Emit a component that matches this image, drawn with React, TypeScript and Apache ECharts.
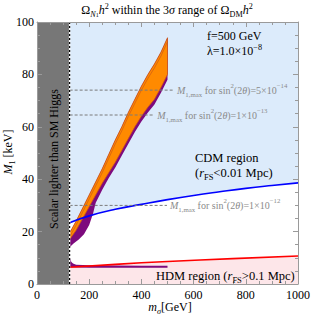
import React, { useEffect, useRef } from 'react';
import * as echarts from 'echarts';

// ---- data ----
const cdmM = [125, 200, 300, 400, 500, 600, 700, 800, 900, 1000];
const cdmY = [23.4, 26, 28.5, 30.4, 32.2, 33.8, 35.2, 36.5, 37.6, 38.6];
const hdmM = [125, 300, 500, 750, 1000];
const hdmY = [6.4, 7.5, 8.6, 9.7, 10.7];
const bandM = [125, 150, 175, 200, 225, 250, 275, 300, 325, 350, 375, 400, 425, 450, 475, 500];
const bandUpper = [19.5, 24, 29, 34, 39, 44, 49.5, 55, 60, 65.5, 70.5, 75.5, 80, 84, 88.5, 94];
const bandLower = [17, 20.5, 25, 29.5, 34, 38.5, 42.5, 46.5, 51, 55.5, 60, 64, 67.5, 70.5, 75, 80];
const purpleM = [125, 140, 160, 180, 200, 215, 225, 250, 275, 300, 325, 350, 375, 400, 425, 450, 475, 500];
const purpleLower = [14, 15.5, 17, 19, 22.5, 27, 31, 36, 40.5, 44.5, 49, 53.5, 58, 62, 65.5, 68.5, 73, 78];
const branchM = [125, 128, 132, 138, 150, 200, 300, 400, 500];
const branchTop = [10.5, 9.3, 8.4, 7.8, 7.3, 7.2, 7.1, 7.0, 7.0];
const branchBottom = [6.8, 6.6, 6.5, 6.4, 6.3, 6.2, 6.2, 6.2, 6.2];
const higgsMass = 125;
const mixY = [74, 64.5, 30];
const mixEnd = [525, 449, 498];
const mixCoef = ['5', '1', '1'];
const mixExp = ['−14', '−13', '−12'];

const SERIF = '"Liberation Serif", "DejaVu Serif", serif';

const pairs = (xs: number[], ys: number[]) => xs.map((x, i) => [x, ys[i]]);

function polySeries(pts: number[][], fill: string, z: number, stroke?: string, lw = 0) {
  return {
    type: 'custom',
    coordinateSystem: 'cartesian2d',
    xAxisIndex: 0,
    yAxisIndex: 0,
    silent: true,
    z,
    data: [[0, 0]],
    renderItem: (_p: any, api: any) => ({
      type: 'polygon',
      shape: { points: pts.map((p) => api.coord(p)) },
      style: { fill, stroke: stroke || 'none', lineWidth: lw },
    }),
  };
}

function lineSeries(data: number[][], color: string, width: number, z: number, extra: any = {}) {
  return {
    type: 'line',
    data,
    symbol: 'none',
    showSymbol: false,
    silent: true,
    z,
    lineStyle: { color, width },
    ...extra,
  };
}

const richBase = (size: number, color: string) => ({
  r: { fontSize: size, fontFamily: SERIF, color, lineHeight: 16, verticalAlign: 'middle' },
  i: { fontSize: size, fontFamily: SERIF, color, fontStyle: 'italic', lineHeight: 16, verticalAlign: 'middle' },
  sup: { fontSize: size * 0.68, fontFamily: SERIF, color, lineHeight: 8, verticalAlign: 'top' },
  sub: { fontSize: size * 0.68, fontFamily: SERIF, color, lineHeight: 6, verticalAlign: 'bottom' },
  subi: { fontSize: size * 0.68, fontFamily: SERIF, color, fontStyle: 'italic', lineHeight: 6, verticalAlign: 'bottom' },
  subsub: { fontSize: size * 0.5, fontFamily: SERIF, color, lineHeight: 3, verticalAlign: 'bottom' },
});

export default function App() {
  const ref = useRef<HTMLDivElement>(null);
  useEffect(() => {
    if (!ref.current) return;
    const chart = echarts.init(ref.current, undefined, { renderer: 'svg' });

    const upperPts = pairs(bandM, bandUpper);
    const lowerPts = pairs(bandM, bandLower);
    const orangePoly = [...upperPts, ...lowerPts.slice().reverse()];
    const purplePoly = [...upperPts, ...pairs(purpleM, purpleLower).reverse()];
    const branchPoly = [...pairs(branchM, branchTop), ...pairs(branchM, branchBottom).reverse()];
    const innerLine = bandM.map((m, i) => [m, bandUpper[i] - 1.5]);

    const axisCommon = {
      type: 'value',
      axisLine: { show: true, onZero: false, lineStyle: { color: '#9a9a9a', width: 1 } },
      axisTick: { show: true, inside: true, length: 5, lineStyle: { color: '#9a9a9a' } },
      minorTick: { show: true, splitNumber: 4, length: 3, lineStyle: { color: '#9a9a9a' } },
      splitLine: { show: false },
      z: 10,
    };
    const labelStyle = { color: '#000', fontSize: 12, fontFamily: SERIF, formatter: (v: number) => String(v) };

    const dashSeries = mixY.map((y, k) =>
      lineSeries([[higgsMass, y], [mixEnd[k], y]], '#7a7a7a', 1, 8, {
        lineStyle: { color: '#7a7a7a', width: 1, type: [3, 2] },
        endLabel: {
          show: true,
          distance: 3,
          formatter: () =>
            `{i|M}{sub|1,max}{r| for sin}{sup|2}{r|(2}{i|θ}{r|)=${mixCoef[k]}×10}{sup|${mixExp[k]}}`,
          rich: richBase(10, '#8a8a8a'),
        },
      })
    );

    const option: any = {
      animation: false,
      grid: { left: 37, top: 22, width: 263, height: 262, show: true, backgroundColor: '#dcebfb', borderWidth: 0 },
      xAxis: [
        { ...axisCommon, min: 0, max: 1000, interval: 200, position: 'bottom', axisLabel: { ...labelStyle, margin: 5 } },
        { ...axisCommon, min: 0, max: 1000, interval: 200, position: 'top', axisLabel: { show: false } },
      ],
      yAxis: [
        { ...axisCommon, min: 0, max: 100, interval: 20, position: 'left', axisLabel: { ...labelStyle, margin: 3 } },
        { ...axisCommon, min: 0, max: 100, interval: 20, position: 'right', axisLabel: { show: false } },
      ],
      series: [
        lineSeries(pairs(cdmM, cdmY), '#fff', 0, 1, { smooth: true, areaStyle: { color: '#ffffff', opacity: 1 } }),
        lineSeries(pairs(hdmM, hdmY), '#fff', 0, 2, { smooth: true, areaStyle: { color: '#fde6e9', opacity: 1 } }),
        lineSeries([[0, 100], [higgsMass, 100]], '#777', 0, 3, { areaStyle: { color: '#777777', opacity: 1 } }),
        polySeries(purplePoly, '#7d0a7d', 4),
        polySeries(branchPoly, '#7d0a7d', 4),
        polySeries(orangePoly, '#ff8a00', 5, '#c8501a', 0.8),
        lineSeries(innerLine, '#c8501a', 0.6, 6),
        lineSeries(pairs(cdmM, cdmY), '#0000ff', 1.6, 7, { smooth: true }),
        lineSeries(pairs(hdmM, hdmY), '#ff0000', 1.6, 7, { smooth: true }),
        ...dashSeries,
        lineSeries([[higgsMass, 0], [higgsMass, 100]], '#ffffff', 1.4, 9),
        lineSeries([[higgsMass, 0], [higgsMass, 100]], '#000000', 1.2, 9, {
          lineStyle: { color: '#000', width: 1.2, type: [2, 2] },
        }),
      ],
      graphic: [
        {
          type: 'text', x: 167, y: 10, z: 20,
          style: {
            text: '{r|Ω}{subi|N}{subsub|1}{i|h}{sup|2}{r| within the 3}{i|σ}{r| range of Ω}{sub|DM}{i|h}{sup|2}',
            rich: richBase(12, '#000'), align: 'center', verticalAlign: 'middle',
          },
        },
        {
          type: 'text', x: 207, y: 36, z: 20,
          style: { text: '{r|f=500 GeV}', rich: richBase(12, '#000'), align: 'left', verticalAlign: 'middle' },
        },
        {
          type: 'text', x: 207, y: 51, z: 20,
          style: { text: '{r|λ=1.0×10}{sup|−8}', rich: richBase(12, '#000'), align: 'left', verticalAlign: 'middle' },
        },
        {
          type: 'text', x: 195, y: 158, z: 20,
          style: { text: '{r|CDM region}', rich: richBase(12.5, '#0000ff'), align: 'left', verticalAlign: 'middle' },
        },
        {
          type: 'text', x: 195, y: 173, z: 20,
          style: { text: '{r|(}{i|r}{sub|FS}{r|<0.01 Mpc)}', rich: richBase(12.5, '#0000ff'), align: 'left', verticalAlign: 'middle' },
        },
        {
          type: 'text', x: 156, y: 276, z: 20,
          style: { text: '{r|HDM region (}{i|r}{sub|FS}{r|>0.1 Mpc)}', rich: richBase(12.5, '#ff0000'), align: 'left', verticalAlign: 'middle' },
        },
        {
          type: 'text', x: 54, y: 159, z: 20, rotation: Math.PI / 2,
          style: { text: '{r|Scalar lighter than SM Higgs}', rich: richBase(12, '#eeeeee'), align: 'center', verticalAlign: 'middle' },
        },
        {
          type: 'text', x: 8, y: 152, z: 20, rotation: Math.PI / 2,
          style: { text: '{i|M}{sub|1}{r| [keV]}', rich: richBase(12, '#000'), align: 'center', verticalAlign: 'middle' },
        },
        {
          type: 'text', x: 170, y: 307, z: 20,
          style: { text: '{i|m}{subi|σ}{r|[GeV]}', rich: richBase(12, '#000'), align: 'center', verticalAlign: 'middle' },
        },
      ],
    };
    chart.setOption(option);
    return () => chart.dispose();
  }, []);
  return <div ref={ref} style={{ width: 313, height: 316, position: 'absolute', left: 0, top: 0 }} />;
}
